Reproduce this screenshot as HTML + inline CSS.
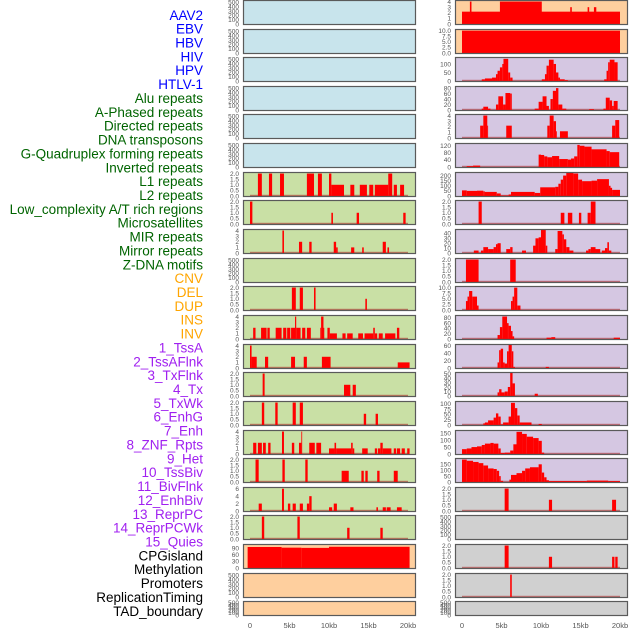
<!DOCTYPE html>
<html><head><meta charset="utf-8"><style>
html,body{margin:0;padding:0;background:#fff;width:630px;height:630px;overflow:hidden}
svg{display:block}
</style></head><body>
<svg id="chart" width="630" height="630" viewBox="0 0 630 630" xmlns="http://www.w3.org/2000/svg" font-family="Liberation Sans, sans-serif"></svg>
<script>
const labels = ["AAV2","EBV","HBV","HIV","HPV","HTLV-1","Alu repeats","A-Phased repeats","Directed repeats","DNA transposons","G-Quadruplex forming repeats","Inverted repeats","L1 repeats","L2 repeats","Low_complexity A/T rich regions","Microsatellites","MIR repeats","Mirror repeats","Z-DNA motifs","CNV","DEL","DUP","INS","INV","1_TssA","2_TssAFlnk","3_TxFlnk","4_Tx","5_TxWk","6_EnhG","7_Enh","8_ZNF_Rpts","9_Het","10_TssBiv","11_BivFlnk","12_EnhBiv","13_ReprPC","14_ReprPCWk","15_Quies","CPGisland","Methylation","Promoters","ReplicationTiming","TAD_boundary"];
const labelColors = ["#0000ff","#0000ff","#0000ff","#0000ff","#0000ff","#0000ff","#006400","#006400","#006400","#006400","#006400","#006400","#006400","#006400","#006400","#006400","#006400","#006400","#006400","#ffa500","#ffa500","#ffa500","#ffa500","#ffa500","#a020f0","#a020f0","#a020f0","#a020f0","#a020f0","#a020f0","#a020f0","#a020f0","#a020f0","#a020f0","#a020f0","#a020f0","#a020f0","#a020f0","#a020f0","#000","#000","#000","#000","#000"];
const xTicks = [0,5,10,15,20];
const xTickLabels = ["0","5kb","10kb","15kb","20kb"];
const bgLeft = ["#c8e4ec","#c8e4ec","#c8e4ec","#c8e4ec","#c8e4ec","#c8e4ec","#c9e0a5","#c9e0a5","#c9e0a5","#c9e0a5","#c9e0a5","#c9e0a5","#c9e0a5","#c9e0a5","#c9e0a5","#c9e0a5","#c9e0a5","#c9e0a5","#c9e0a5","#fecf9e","#fecf9e","#fecf9e"];
const bgRight = ["#fecf9e","#fecf9e","#d5c7e2","#d5c7e2","#d5c7e2","#d5c7e2","#d5c7e2","#d5c7e2","#d5c7e2","#d5c7e2","#d5c7e2","#d5c7e2","#d5c7e2","#d5c7e2","#d5c7e2","#d5c7e2","#d5c7e2","#d0d0d0","#d0d0d0","#d0d0d0","#d0d0d0","#d0d0d0"];
const T500 = [0,100,200,300,400,500];
const T2 = [0,0.5,1,1.5,2];
const T4 = [0,1,2,3,4];
const ymaxLeft = [530,530,530,530,530,530,2.05,2.05,4.1,530,2.05,4.1,4.1,2.05,2.05,4.1,2.05,6.2,2.05,104,530,530];
const ticksLeft = [T500,T500,T500,T500,T500,T500,T2,T2,T4,T500,T2,T4,T4,T2,T2,T4,T2,[0,2,4,6],T2,[0,30,60,90],T500,T500];
const ymaxRight = [4.1,10.3,135,84,4.1,130,225,2.05,47,2.05,10.3,87,62,51,109,166,195,2.05,530,2.05,2.05,530];
const ticksRight = [T4,[0,2.5,5,7.5,10],[0,50,100],[0,20,40,60,80],T4,[0,40,80,120],[0,50,100,150,200],T2,[0,10,20,30,40],T2,[0,2.5,5,7.5,10],[0,20,40,60,80],[0,20,40,60],[0,10,20,30,40,50],[0,25,50,75,100],[0,50,100,150],[0,50,100,150],T2,T500,T2,T2,T500];
const tickFmtRight = [0,1,0,0,0,0,0,1,0,1,1,0,0,0,0,0,0,1,0,1,1,0];
const tickFmtLeft = [0,0,0,0,0,0,1,1,0,0,1,0,0,1,1,0,1,0,1,0,0,0];
// data: [startKb, endKb, value]
const L6 = [[1.0,1.5,2],[2.4,2.8,2],[3.8,4.3,2],[7.2,8.1,2],[8.6,9.1,2],[10,10.3,2],[10.3,11.9,1],[12.7,13.2,1],[13.9,14.8,1],[15.1,15.6,1],[15.8,17.5,1],[17.5,18,2],[18.2,18.6,1],[19,19.5,1]];
const L7 = [[0,0.3,2],[10.3,10.5,1],[13.5,13.8,1],[19.4,19.7,1]];
const L8 = [[4.1,4.3,4],[6.2,6.6,2],[7.5,7.8,2],[10.6,10.9,2],[10.9,11.1,1],[12.8,13.2,1],[14.2,14.4,1],[16.8,17.2,2],[17.4,17.6,1]];
const L10 = [[5.3,5.8,2],[6.3,6.7,2],[8.1,8.3,2],[14.6,14.8,1]];
const L11 = [[0.4,0.7,2],[1.4,2.1,2],[2.2,2.5,2],[3.25,4.0,2],[4.2,4.6,2],[4.7,5.1,2],[5.2,5.7,2],[5.7,5.85,4],[5.85,6.4,2],[6.6,7.0,2],[7.2,7.7,2],[8.9,9.0,2],[9.0,9.3,4],[9.3,9.4,2],[9.8,10.1,2],[10.1,11.0,1],[11.7,12.1,1],[12.3,13.0,1],[13.7,14.3,1],[14.5,15.6,1],[15.6,15.8,2],[15.8,16.1,1],[16.3,16.8,1],[17.1,18.4,1],[18.6,18.9,2]];
const L12 = [[0,0.2,4],[0.2,0.85,2],[1.9,2.3,2],[5.2,5.7,2],[6.8,7.2,2],[9.1,10.2,2],[18.7,20.2,1]];
const L13 = [[1.6,1.85,2],[11.9,12.7,1],[13.0,13.4,1]];
const L14 = [[1.5,1.8,2],[3.2,3.5,2],[5.4,5.8,2],[6.3,6.7,2],[14.4,14.7,1],[15.9,16.2,1]];
const L15 = [[0.4,0.8,2],[1.0,1.5,2],[1.65,2.0,2],[2.3,2.6,2],[4.05,4.3,4],[5.3,5.6,2],[6.2,6.5,2],[6.5,6.6,4],[7.5,8.2,2],[8.4,9.0,2],[10,10.7,1],[10.7,10.9,2],[10.9,12.8,1],[12.8,13.0,2],[13.0,13.2,1],[14.2,14.9,1],[15.8,16.1,1],[16.2,16.5,1],[16.5,16.8,2],[16.8,17.9,1],[18.2,18.5,1],[18.6,19.0,1],[19.2,19.6,1],[19.9,20.2,1]];
const L16 = [[0.7,1.1,2],[4.1,4.4,2],[7.0,7.3,2],[11.6,12.5,1],[14.1,14.4,1],[14.6,14.9,1],[16.1,16.4,1],[18.2,18.7,1]];
const L17 = [[1.1,1.5,2],[4.05,4.3,6],[4.8,5.1,2],[5.4,5.8,2],[6.3,6.7,2],[7.2,7.5,2],[7.5,7.8,4],[10.0,10.4,1],[10.6,11.0,2],[12.7,13.1,1],[16.0,16.2,1],[16.8,17.2,1],[17.3,17.8,1],[18.6,19.2,1]];
const L18 = [[1.5,1.8,2],[6.0,6.3,2],[12.3,12.6,1],[16.5,16.8,1]];
const L19 = [[-0.3,4.0,95],[4.0,6.5,92],[6.5,10.0,91],[10.0,20.2,96]];
const R0 = [[0,20,2.2],[1.0,1.2,4],[4.8,10.1,4],[13.7,13.9,3],[15.9,16.1,3],[16.7,17.0,3]];
const R1 = [[0,20,10]];
const R2 = [[2.5,2.9,10],[2.9,3.8,15],[3.8,4.3,20],[4.3,4.5,40],[4.5,4.8,60],[4.8,5.1,80],[5.1,5.25,100],[5.25,5.85,130],[5.85,6.1,50],[6.1,6.4,20],[10.1,10.5,10],[10.5,10.7,40],[10.7,11.0,90],[11.0,11.6,125],[11.6,11.9,100],[11.9,12.2,50],[12.2,12.4,20],[12.4,13.0,10],[13.0,13.4,5],[18.0,18.3,10],[18.3,18.5,60],[18.5,18.7,110],[18.7,19.3,125],[19.3,19.7,110]];
const R3 = [[2.5,2.7,5],[2.7,3.3,12],[3.3,3.6,5],[4.3,4.6,20],[4.6,5.2,50],[5.2,5.5,20],[5.5,6.1,62],[6.1,6.3,60],[9.2,9.7,5],[9.7,10.2,30],[10.2,10.7,50],[10.7,11.0,15],[11.2,11.5,40],[11.5,11.9,70],[11.9,12.2,80],[12.2,12.7,20],[12.7,13.2,5],[16.1,16.7,3],[17.9,18.2,5],[18.2,18.7,45],[18.7,19.0,35],[19.0,19.2,15],[19.2,19.7,33]];
const R4 = [[2.3,2.7,2.2],[2.7,3.2,4],[3.2,3.3,2.2],[5.6,6.3,2.2],[10.8,11.1,2.2],[11.1,11.6,4],[11.6,11.9,3],[11.9,12.0,1.2],[12.4,13.4,1.2],[19.0,19.4,2.2],[19.4,19.9,3.2]];
const R5 = [[0.6,1.4,5],[1.4,2.3,8],[9.7,10.0,70],[10.0,10.4,68],[10.4,10.8,60],[10.8,11.4,55],[11.4,12.3,62],[12.3,13.4,45],[13.4,13.8,42],[13.8,14.2,48],[14.2,14.6,60],[14.6,14.9,125],[14.9,15.5,120],[15.5,16.4,115],[16.4,18.3,100],[18.3,18.7,90],[18.7,19.9,84]];
const R6 = [[0,0.6,55],[0.6,1.9,50],[1.9,2.7,52],[2.7,2.9,45],[2.9,4.4,40],[4.4,4.9,25],[4.9,5.9,5],[5.9,6.2,15],[6.2,9.2,40],[9.2,9.9,30],[9.9,11.8,85],[11.8,12.2,90],[12.2,12.5,120],[12.5,12.8,160],[12.8,13.2,200],[13.2,14.1,225],[14.1,14.7,220],[14.7,15.2,160],[15.2,16.4,145],[16.4,17.1,150],[17.1,18.6,165],[18.6,18.8,100],[18.8,19.0,80],[19.0,20.0,60]];
const R7 = [[2.1,2.5,2],[12.5,12.96,1],[13.4,13.96,1],[14.8,15.1,1],[15.9,16.3,1],[16.3,16.9,2]];
const R8 = [[1.5,2.1,5],[2.4,2.7,5],[2.7,3.3,12],[3.3,4.0,8],[4.0,4.3,12],[4.3,4.5,18],[4.5,4.9,20],[5.6,6.1,8],[6.1,6.4,12],[7.6,8.1,5],[9.0,9.3,15],[9.3,9.7,30],[9.7,10.0,32],[10.0,10.6,47],[10.6,10.8,15],[11.8,12.1,8],[12.1,12.7,45],[12.7,12.9,38],[12.9,13.2,28],[13.2,13.6,12],[13.6,14.1,5],[15.7,16.0,5],[16.0,16.3,8],[16.3,16.9,12],[16.9,17.5,8],[17.7,18.1,5],[18.1,18.4,10],[18.4,18.6,22],[18.6,18.9,5]];
const R9 = [[0.5,2.1,2],[6.1,6.8,2]];
const R10 = [[0.5,0.7,4],[0.7,0.9,6],[0.9,1.3,8.5],[1.3,1.9,6],[1.9,2.1,2],[6.2,6.4,4],[6.4,6.6,6],[6.6,7.0,10],[7.0,7.4,2]];
const R11 = [[4.5,4.8,15],[4.8,5.1,45],[5.1,5.7,85],[5.7,5.9,60],[5.9,6.2,50],[6.2,6.4,30],[6.4,6.6,10],[10.7,11.3,5],[11.3,11.8,7],[19.2,20.0,5]];
const R12 = [[4.5,4.7,15],[4.7,4.9,48],[4.9,5.2,52],[5.2,5.4,15],[5.4,5.7,12],[5.7,5.9,45],[5.9,6.3,62],[6.3,6.5,45],[6.5,6.7,3],[10.6,11.0,3]];
const R13 = [[4.5,4.7,8],[4.7,5.0,15],[5.0,5.4,8],[5.4,5.8,10],[5.8,6.1,20],[6.1,6.4,52],[6.4,6.7,28],[9.2,9.6,5]];
const R14 = [[2.7,2.9,8],[2.9,3.3,12],[3.3,4.0,22],[4.0,4.3,35],[4.3,4.6,55],[4.6,4.9,40],[4.9,5.2,3],[5.2,5.9,12],[5.9,6.2,40],[6.2,6.7,105],[6.7,7.0,80],[7.0,7.3,45],[7.3,8.8,12],[9.7,10.1,5]];
const R15 = [[0,0.6,35],[0.6,1.2,40],[1.2,1.9,50],[1.9,2.5,55],[2.5,2.9,65],[2.9,3.6,75],[3.6,4.0,80],[4.0,4.6,75],[4.6,4.9,40],[4.9,5.4,8],[5.4,6.1,10],[6.1,6.5,25],[6.5,6.9,70],[6.9,7.6,160],[7.6,8.2,145],[8.2,9.0,125],[9.0,9.7,115],[9.7,10.1,95],[10.1,10.4,10]];
const R16 = [[0,0.6,190],[0.6,1.4,180],[1.4,2.1,170],[2.1,2.7,160],[2.7,3.3,140],[3.3,4.0,115],[4.0,4.4,110],[4.4,4.7,95],[4.7,4.9,50],[4.9,5.2,10],[6.0,6.2,20],[6.2,6.9,60],[6.9,7.6,75],[7.6,8.0,95],[8.0,8.6,115],[8.6,9.7,125],[9.7,10.1,150],[10.1,10.4,80],[10.4,10.7,40],[10.7,11.0,15],[11.0,15.8,8],[15.8,18.5,12],[18.5,20.0,8]];
const R17 = [[5.4,5.9,2],[11.0,11.4,1],[19.0,19.5,1]];
const R19 = [[5.4,5.9,2],[11.0,11.4,1],[19.0,19.3,1],[19.4,19.7,1]];
const R20 = [[6.1,6.3,2]];
const dataLeft = [[],[],[],[],[],[],L6,L7,L8,[],L10,L11,L12,L13,L14,L15,L16,L17,L18,L19,[],[]];
const dataRight = [R0,R1,R2,R3,R4,R5,R6,R7,R8,R9,R10,R11,R12,R13,R14,R15,R16,R17,[],R19,R20,[]];

const NS = "http://www.w3.org/2000/svg";
const svg = document.getElementById("chart");
function mk(tag, attrs, parent) {
  const e = document.createElementNS(NS, tag);
  for (const k in attrs) e.setAttribute(k, attrs[k]);
  (parent || svg).appendChild(e);
  return e;
}
// row labels
labels.forEach((t, i) => {
  const el = mk("text", {x: 203, y: 15 + i * 13.86 + 4.8, "text-anchor": "end", "font-size": "13.5", fill: labelColors[i]});
  el.textContent = t;
  
  
});
const rowTops = [0,29,57,86,114,143,172,200,229,258,286,315,344,372,401,430,458,487,515,544,573,601];
function rowH(i) { return i === 21 ? 15 : 25; }
function xScale(px0, kb) { return px0 + 7 + kb * 7.9; }

function drawPanel(px0, i, bg, data, ymax, ticks, fmt, side) {
  const g = mk("g", {});
  
  
  const top = rowTops[i], h = rowH(i), W = 173;
  const bottom = top + h - 1;
  const inner = h - 2;
  const yScale = v => bottom - (v / ymax) * inner;
  const r = mk("rect", {x: px0, y: top, width: W, height: h, fill: bg}, g);
  
  
  if (data.length) {
    const bl = mk("rect", {x: xScale(px0, 0), y: bottom - 1.2, width: 20 * 7.9, height: 1.5, fill: "rgba(170,30,30,0.55)"}, g);
    
    
  }
  data.forEach(d => {
    const x1 = Math.max(px0 + 1, xScale(px0, d[0]));
    const x2 = Math.min(px0 + W - 1, xScale(px0, d[1]));
    const yv = Math.max(top + 1, yScale(d[2]));
    const b = mk("rect", {x: x1, y: yv, width: Math.max(0.8, x2 - x1), height: bottom - yv, fill: "#ff0000"}, g);
    
    
  });
  const fr = mk("rect", {x: px0 + 0.5, y: top + 0.5, width: W - 1, height: h - 1, fill: "none", stroke: "#5a5a5a", "stroke-width": 1.2}, g);
  
  
  ticks.forEach(t => {
    const tl = mk("text", {x: px0 - 4, y: yScale(t) + 2.3, "text-anchor": "end", "font-size": "6.5", fill: "#555"}, g);
    tl.textContent = fmt ? t.toFixed(1) : String(t);
    
    
  });
}
for (let i = 0; i < 22; i++) {
  drawPanel(243, i, bgLeft[i], dataLeft[i], ymaxLeft[i], ticksLeft[i], tickFmtLeft[i], 'left');
  drawPanel(455, i, bgRight[i], dataRight[i], ymaxRight[i], ticksRight[i], tickFmtRight[i], 'right');
}
[243, 455].forEach(px0 => {
  xTicks.forEach((k, j) => {
    const t = mk("text", {x: xScale(px0, k), y: 628, "text-anchor": "middle", "font-size": "7.5", fill: "#555"});
    t.textContent = xTickLabels[j];
    
    
  });
});
</script>
</body></html>
